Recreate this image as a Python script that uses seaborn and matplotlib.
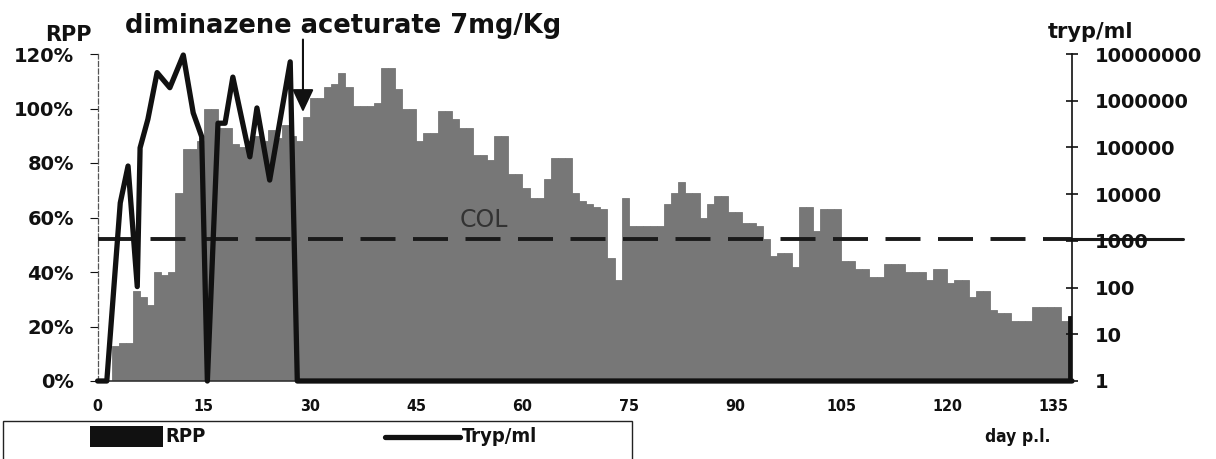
import matplotlib
matplotlib.use("Agg")
import matplotlib.pyplot as plt
import matplotlib.transforms as mtransforms
from matplotlib.patches import Rectangle
from matplotlib.lines import Line2D
from matplotlib.ticker import FixedLocator, FuncFormatter, NullLocator
import numpy as np
import pandas as pd
import seaborn as sns

sns.set_style("white")
plt.rcParams["font.family"] = ["DejaVu Sans"]

# ---- data -------------------------------------------------------------
# daily relative PCV-like index (RPP, %), one value per day post infection
days = np.arange(0, 138)
rpp_pct = [
    0, 0, 13, 14, 14, 33, 31, 28, 40, 39,
    40, 69, 85, 85, 88, 100, 100, 93, 93, 87,
    86, 88, 90, 88, 92, 89, 94, 90, 88, 97,
    104, 104, 108, 109, 113, 108, 101, 101, 101, 102,
    115, 115, 107, 100, 100, 88, 91, 91, 99, 99,
    96, 93, 93, 83, 83, 81, 90, 90, 76, 76,
    71, 67, 67, 74, 82, 82, 82, 69, 66, 65,
    64, 63, 45, 37, 67, 57, 57, 57, 57, 57,
    65, 69, 73, 69, 69, 60, 65, 68, 68, 62,
    62, 58, 58, 57, 52, 46, 47, 47, 42, 64,
    64, 55, 63, 63, 63, 44, 44, 41, 41, 38,
    38, 43, 43, 43, 40, 40, 40, 37, 41, 41,
    36, 37, 37, 31, 33, 33, 26, 25, 25, 22,
    22, 22, 27, 27, 27, 27, 22, 24,
]

# parasitaemia (trypanosomes per ml)
tryp_days = [0, 1.3, 3.2, 4.3, 5.6, 6.0, 7.1, 8.4, 10.2, 12.1, 13.5, 14.7,
             15.5, 17.0, 18.0, 19.1, 21.5, 22.5, 24.3, 27.2, 28.2, 137.6]
tryp_ml = [1, 1, 6500, 40000, 105, 98000, 400000, 4000000, 1900000, 9500000,
           550000, 170000, 1, 330000, 330000, 3200000, 63000, 700000, 20000,
           6800000, 1, 1]

col_pct = 52            # cut-off level drawn as the dashed COL line
treatment_day = 29      # diminazene aceturate injection

x_ticks = [0, 15, 30, 45, 60, 75, 90, 105, 120, 135]
rpp_ticks = [0, 20, 40, 60, 80, 100, 120]
tryp_ticks = [1, 10, 100, 1000, 10000, 100000, 1000000, 10000000]

# ---- figure -----------------------------------------------------------
W, H = 1216, 459
BAR_GREY = "#777777"
INK = "#111111"

fig = plt.figure(figsize=(W / 100, H / 100), dpi=100)


def fx(px):
    return px / W


def fy(py):
    return 1 - py / H


ax = fig.add_axes([fx(97.6), fy(381), (1072 - 97.6) / W, (381 - 54) / H])

bar_df = pd.DataFrame({"day": days + 0.5, "rpp": rpp_pct})
sns.barplot(data=bar_df, x="day", y="rpp", native_scale=True, width=1.0,
            color=BAR_GREY, saturation=1, errorbar=None,
            edgecolor=BAR_GREY, linewidth=0.6, ax=ax)
for p in ax.patches:
    if p.get_x() + p.get_width() / 2 > days[-1]:
        p.set_facecolor(INK)
        p.set_edgecolor(INK)

# COL threshold
ax.axhline(col_pct, color="#1a1a1a", lw=2.8, dashes=(9, 4.5), zorder=4)
blend = mtransforms.blended_transform_factory(ax.transAxes, ax.transData)
ax.plot([1.0, 1.114], [col_pct, col_pct], transform=blend, clip_on=False,
        color="#1a1a1a", lw=2.2, zorder=4)
ax.text(54.6, 59, "COL", fontsize=17, color="#333333", ha="center",
        va="center", zorder=5)

ax.set_ylim(0, 120)
ax.set_yticks(rpp_ticks)
ax.set_yticklabels([f"{v}%" for v in rpp_ticks])
ax.set_xticks(x_ticks)
ax.set_xticklabels([str(v) for v in x_ticks])
ax.set_xlabel("")
ax.set_ylabel("")

ax.tick_params(axis="y", direction="out", length=6, width=0.8, colors=INK,
               labelsize=14, pad=11)
ax.tick_params(axis="x", direction="out", length=4, width=1, colors=INK,
               labelsize=11.5, pad=9)
for lab in ax.get_yticklabels():
    lab.set_fontweight("bold")
for lab in ax.get_xticklabels():
    lab.set_fontweight("bold")
    lab.set_fontstretch("condensed")

for side in ("top", "right"):
    ax.spines[side].set_visible(False)
ax.spines["left"].set_color("#555555")
ax.spines["left"].set_linewidth(0.9)
ax.spines["left"].set_linestyle((0, (4, 2)))
ax.spines["bottom"].set_color("#333333")
ax.spines["bottom"].set_linewidth(1.2)

# treatment arrow
ax.annotate("", xy=(treatment_day, 98.7), xytext=(treatment_day, 125.3),
            arrowprops=dict(arrowstyle="-|>,head_length=0.7,head_width=0.33",
                            color=INK, lw=1.5, mutation_scale=20,
                            shrinkA=0, shrinkB=0),
            annotation_clip=False, zorder=6)

# parasitaemia on a log scale
ax2 = ax.twinx()
ax2.set_yscale("log")
ax2.set_ylim(1, 1e7)
sns.lineplot(x=tryp_days, y=tryp_ml, ax=ax2, color=INK, linewidth=3.8,
             estimator=None, sort=False)
ax2.lines[-1].set_clip_on(False)
ax2.yaxis.set_major_locator(FixedLocator(tryp_ticks))
ax2.yaxis.set_minor_locator(NullLocator())
ax2.yaxis.set_major_formatter(FuncFormatter(lambda v, _: f"{int(round(v))}"))
ax2.tick_params(axis="y", direction="inout", length=9, width=1.2, colors=INK,
                labelsize=14, pad=12)
for lab in ax2.get_yticklabels():
    lab.set_fontweight("bold")
for side in ("top", "left", "bottom"):
    ax2.spines[side].set_visible(False)
ax2.spines["right"].set_color(INK)
ax2.spines["right"].set_linewidth(1.2)
ax2.set_ylabel("")
ax2.set_xlabel("")

ax.set_xlim(0, 137.6)
ax2.set_xlim(0, 137.6)

# titles and axis captions
fig.text(fx(125), fy(33), "diminazene aceturate 7mg/Kg", fontsize=18.5,
         fontweight="bold", va="baseline", ha="left", color=INK)
fig.text(fx(45), fy(41), "RPP", fontsize=15, fontweight="bold",
         va="baseline", ha="left", color=INK)
fig.text(fx(1048), fy(38), "tryp/ml", fontsize=15, fontweight="bold",
         va="baseline", ha="left", color=INK)
fig.text(fx(985), fy(437), "day p.l.", fontsize=12.5, fontweight="bold",
         va="center", ha="left", color=INK, fontstretch="condensed")

# legend box
fig.add_artist(Rectangle((fx(3), fy(475)), fx(632) - fx(3), fy(421) - fy(475),
                         transform=fig.transFigure, fill=False,
                         edgecolor="#222222", lw=1.0, clip_on=False))
fig.add_artist(Rectangle((fx(90), fy(447)), fx(163) - fx(90), fy(426) - fy(447),
                         transform=fig.transFigure, facecolor=INK,
                         edgecolor=INK, lw=0))
fig.text(fx(165), fy(437), "RPP", fontsize=14.5, fontweight="bold",
         va="center", ha="left", color=INK, fontstretch="condensed")
fig.add_artist(Line2D([fx(385), fx(460)], [fy(437), fy(437)],
                      transform=fig.transFigure, color=INK, lw=3.8,
                      solid_capstyle="round"))
fig.text(fx(462), fy(437), "Tryp/ml", fontsize=14.5, fontweight="bold",
         va="center", ha="left", color=INK, fontstretch="condensed")

fig.savefig("out.png", dpi=100, facecolor="white")
